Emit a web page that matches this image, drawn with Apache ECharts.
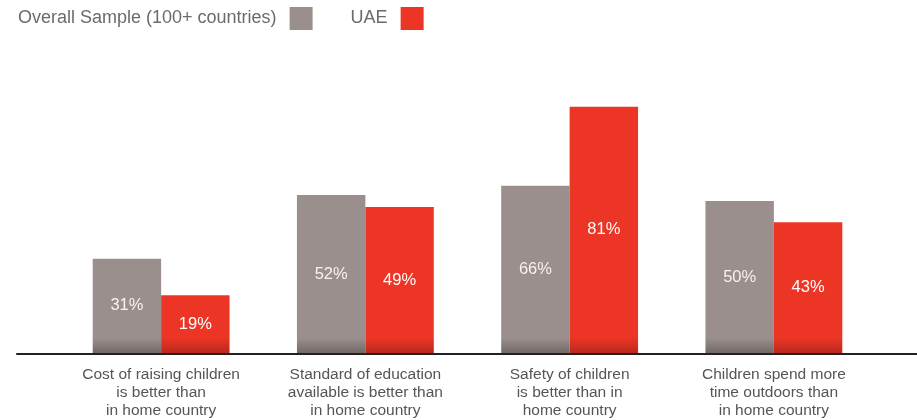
<!DOCTYPE html>
<html>
<head>
<meta charset="utf-8">
<script src="https://cdn.jsdelivr.net/npm/echarts@6/dist/echarts.min.js"></script>
<style>
  html, body { margin: 0; padding: 0; background: #fff; }
  #main { width: 917px; height: 420px; }
</style>
</head>
<body>
<div id="main"></div>
<script>
  // categories (x axis labels, three lines each)
  var categories = [
    'Cost of raising children\nis better than\nin home country',
    'Standard of education\navailable is better than\nin home country',
    'Safety of children\nis better than in\nhome country',
    'Children spend more\ntime outdoors than\nin home country'
  ];
  // printed percentages
  var overallPct = [31, 52, 66, 50];
  var uaePct = [19, 49, 81, 43];
  // bar heights as drawn in the picture (the 66% bar is drawn shorter)
  var overallBar = [31, 52, 55, 50];
  var uaeBar = [19, 48, 81, 43];

  var grayColor = '#9a8f8c';
  var redColor = '#ec3525';

  // darker band near the baseline, same for every bar
  function shade(c, dark) {
    return {
      type: 'linear', x: 0, y: 338, x2: 0, y2: 354, global: true,
      colorStops: [{offset: 0, color: c}, {offset: 1, color: dark}]
    };
  }

  function makeData(heights, pcts) {
    return heights.map(function (h, i) {
      return {value: h, pct: pcts[i]};
    });
  }

  var chart = echarts.init(document.getElementById('main'));
  chart.setOption({
    animation: false,
    textStyle: {fontFamily: '"Liberation Sans", Arial, sans-serif'},
    legend: {
      left: 18,
      top: 7,
      padding: 0,
      align: 'right',
      itemWidth: 23,
      itemHeight: 23,
      itemGap: 38,
      icon: 'rect',
      textStyle: {fontSize: 18, color: '#6b6b6b', padding: [0, 8, 0, 0]},
      data: [
        {name: 'Overall Sample (100+ countries)', itemStyle: {color: grayColor}},
        {name: 'UAE', itemStyle: {color: redColor}}
      ]
    },
    grid: [
      {left: 59, right: 41, top: 49, bottom: 66},
      {left: 17, right: 0, top: 49, bottom: 66}
    ],
    xAxis: [
      {
        type: 'category',
        gridIndex: 0,
        data: categories,
        axisLine: {show: false},
        axisTick: {show: false},
        axisLabel: {
          interval: 0,
          margin: 13,
          fontSize: 15.5,
          lineHeight: 18,
          color: '#555',
          align: 'center'
        }
      },
      {
        type: 'value',
        gridIndex: 1,
        min: 0,
        max: 1,
        axisLine: {show: true, lineStyle: {color: '#222', width: 2}},
        axisTick: {show: false},
        axisLabel: {show: false},
        splitLine: {show: false}
      }
    ],
    yAxis: [
      {type: 'value', gridIndex: 0, min: 0, max: 100, show: false},
      {type: 'value', gridIndex: 1, min: 0, max: 100, show: false}
    ],
    series: [
      {
        name: 'Overall Sample (100+ countries)',
        type: 'bar',
        barGap: '0%',
        barCategoryGap: '33%',
        itemStyle: {color: shade(grayColor, '#6f6664')},
        label: {
          show: true,
          position: 'inside',
          color: '#f6f2f0',
          fontSize: 16.5,
          formatter: function (p) { return p.data.pct + '%'; }
        },
        data: makeData(overallBar, overallPct)
      },
      {
        name: 'UAE',
        type: 'bar',
        itemStyle: {color: shade(redColor, '#b8281c')},
        label: {
          show: true,
          position: 'inside',
          color: '#fff',
          fontSize: 16.5,
          formatter: function (p) { return p.data.pct + '%'; }
        },
        data: makeData(uaeBar, uaePct)
      }
    ]
  });
</script>
</body>
</html>
